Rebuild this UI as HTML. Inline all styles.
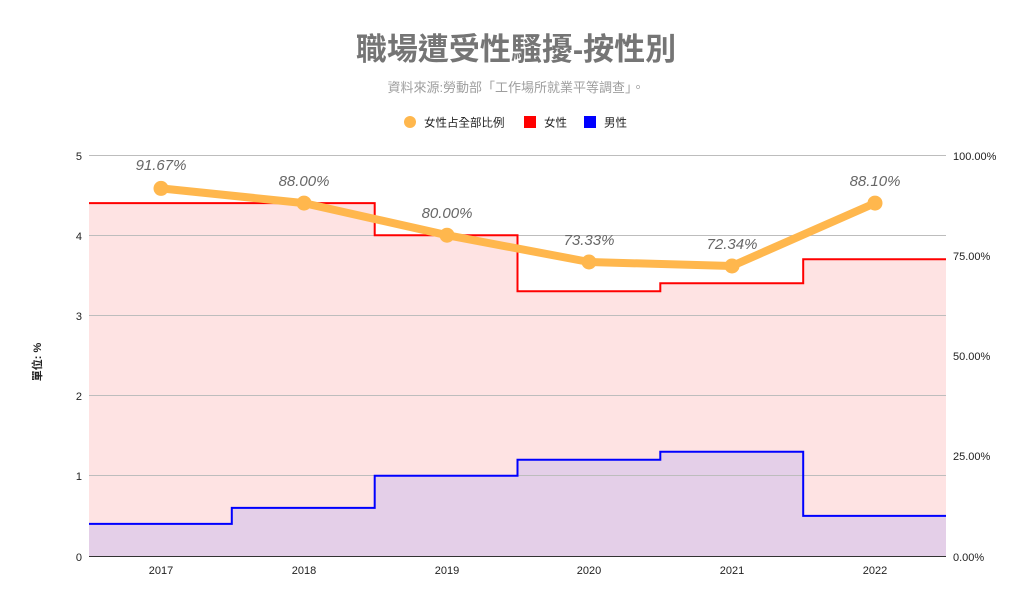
<!DOCTYPE html>
<html><head><meta charset="utf-8"><style>
body{margin:0;background:#fff;}
svg text{font-family:"Liberation Sans","Noto Sans CJK TC",sans-serif;}
</style></head><body>
<svg width="1032" height="607" xmlns="http://www.w3.org/2000/svg">
<rect width="1032" height="607" fill="#fff"/>
<text x="516" y="60" text-anchor="middle" font-size="31" font-weight="bold" fill="#757575">職場遭受性騷擾-按性別</text>
<text x="516" y="92" text-anchor="middle" font-size="13" fill="#9e9e9e">資料來源:勞動部「工作場所就業平等調查」。</text>
<circle cx="410" cy="122" r="6" fill="#ffb74d"/>
<text x="424" y="126.5" font-size="11.5" fill="#222">女性占全部比例</text>
<rect x="524" y="116" width="12" height="12" fill="#f00"/>
<text x="544" y="126.5" font-size="11.5" fill="#222">女性</text>
<rect x="584" y="116" width="12" height="12" fill="#00f"/>
<text x="604" y="126.5" font-size="11.5" fill="#222">男性</text>
<path d="M89,556 V203.1 H374.7 V235.2 H517.5 V291.3 H660.3 V283.3 H803.2 V259.3 H946 V556 Z" fill="#fee3e3"/>
<path d="M89,556 V523.9 H231.8 V507.9 H374.7 V475.8 H517.5 V459.8 H660.3 V451.7 H803.2 V515.9 H946 V556 Z" fill="#e4cfe8"/>
<g stroke="#bdbdbd" stroke-width="1">
<line x1="89" x2="946" y1="155.5" y2="155.5"/>
<line x1="89" x2="946" y1="235.5" y2="235.5"/>
<line x1="89" x2="946" y1="315.5" y2="315.5"/>
<line x1="89" x2="946" y1="395.5" y2="395.5"/>
<line x1="89" x2="946" y1="475.5" y2="475.5"/>
</g>
<line x1="89" x2="946" y1="556.5" y2="556.5" stroke="#333"/>
<path d="M89,203.1 H374.7 V235.2 H517.5 V291.3 H660.3 V283.3 H803.2 V259.3 H946" fill="none" stroke="#f00" stroke-width="2"/>
<path d="M89,523.9 H231.8 V507.9 H374.7 V475.8 H517.5 V459.8 H660.3 V451.7 H803.2 V515.9 H946" fill="none" stroke="#00f" stroke-width="2"/>
<polyline points="161,188.4 304,203.1 447,235.2 589,262 732,266 875,203.1" fill="none" stroke="#ffb74d" stroke-width="8" stroke-linejoin="round"/>
<g fill="#ffb74d">
<circle cx="161" cy="188.4" r="7.5"/><circle cx="304" cy="203.1" r="7.5"/><circle cx="447" cy="235.2" r="7.5"/>
<circle cx="589" cy="262" r="7.5"/><circle cx="732" cy="266" r="7.5"/><circle cx="875" cy="203.1" r="7.5"/>
</g>
<g font-size="15" font-style="italic" fill="#666" text-anchor="middle">
<text x="161" y="170">91.67%</text><text x="304" y="186">88.00%</text><text x="447" y="218">80.00%</text>
<text x="589" y="245">73.33%</text><text x="732" y="249">72.34%</text><text x="875" y="186">88.10%</text>
</g>
<g font-size="11" fill="#222" text-anchor="end">
<text x="82" y="160">5</text><text x="82" y="240">4</text><text x="82" y="320">3</text>
<text x="82" y="400">2</text><text x="82" y="480">1</text><text x="82" y="561">0</text>
</g>
<g font-size="11" fill="#222">
<text x="953" y="160">100.00%</text><text x="953" y="260">75.00%</text><text x="953" y="360">50.00%</text>
<text x="953" y="460">25.00%</text><text x="953" y="561">0.00%</text>
</g>
<g font-size="11" fill="#222" text-anchor="middle">
<text x="161" y="574">2017</text><text x="304" y="574">2018</text><text x="447" y="574">2019</text>
<text x="589" y="574">2020</text><text x="732" y="574">2021</text><text x="875" y="574">2022</text>
</g>
<text transform="translate(41,362) rotate(-90)" text-anchor="middle" font-size="11" font-weight="bold" fill="#222">單位: %</text>
</svg>
</body></html>
